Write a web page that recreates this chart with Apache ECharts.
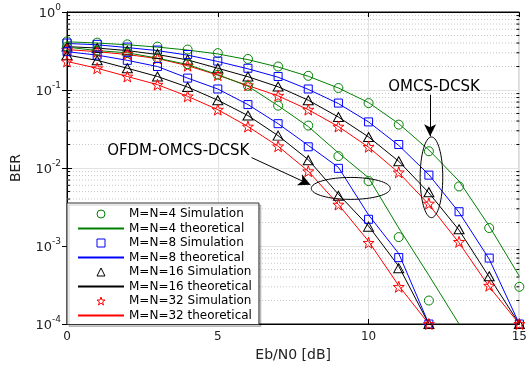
<!DOCTYPE html>
<html>
<head>
<meta charset="utf-8">
<script src="https://cdn.jsdelivr.net/npm/echarts@6/dist/echarts.min.js"></script>
<style>
  html, body { margin: 0; padding: 0; background: #fff; }
  #chart { width: 530px; height: 367px; }
</style>
</head>
<body>
<div id="chart"></div>
<script>
var snr = [0, 1, 2, 3, 4, 5, 6, 7, 8, 9, 10, 11, 12, 13, 14, 15]

// OMCS-DCSK (right group)
var omcs4Sim = [0.42, 0.405, 0.385, 0.36, 0.33, 0.297, 0.25, 0.20, 0.152, 0.106, 0.068, 0.036, 0.0164, 0.0058, 0.0017, 0.0003]
var omcs4Th = [0.415, 0.40, 0.38, 0.355, 0.325, 0.29, 0.245, 0.197, 0.15, 0.106, 0.069, 0.037, 0.0170, 0.0068, 0.0018, 0.00041]
var omcs8Sim = [0.40, 0.385, 0.355, 0.325, 0.285, 0.235, 0.19, 0.149, 0.103, 0.068, 0.039, 0.020, 0.0081, 0.00275, 0.0007, 0.0001]
var omcs8Th = [0.395, 0.38, 0.35, 0.32, 0.28, 0.232, 0.187, 0.146, 0.102, 0.067, 0.039, 0.0195, 0.0082, 0.0027, 0.00068, 0.0001]
var omcs16Sim = [0.36, 0.345, 0.32, 0.29, 0.245, 0.19, 0.149, 0.111, 0.074, 0.045, 0.025, 0.0122, 0.0049, 0.00164, 0.00041, 0.0001]
var omcs16Th = [0.36, 0.345, 0.32, 0.285, 0.243, 0.19, 0.148, 0.11, 0.074, 0.045, 0.025, 0.0122, 0.0048, 0.0016, 0.0004, 0.0001]
var omcs32Sim = [0.33, 0.31, 0.29, 0.255, 0.205, 0.155, 0.115, 0.0845, 0.056, 0.034, 0.0187, 0.0088, 0.0035, 0.00113, 0.00031, 0.0001]
var omcs32Th = [0.33, 0.31, 0.285, 0.253, 0.205, 0.155, 0.114, 0.084, 0.056, 0.034, 0.0185, 0.0087, 0.0034, 0.0011, 0.0003, 0.0001]

// OFDM-OMCS-DCSK (left group)
var ofdm4Sim = [0.36, 0.32, 0.30, 0.256, 0.214, 0.157, 0.113, 0.063, 0.035, 0.0142, 0.0068, 0.0013, 0.0002]
var ofdm4Th = [0.355, 0.32, 0.30, 0.256, 0.212, 0.157, 0.112, 0.063, 0.034, 0.0156, 0.0075, 0.0017, 0.00042, 0.0001]
var ofdm8Sim = [0.31, 0.28, 0.24, 0.20, 0.142, 0.103, 0.065, 0.037, 0.0187, 0.0099, 0.0022, 0.00071, 0.0001]
var ofdm8Th = [0.31, 0.28, 0.24, 0.20, 0.142, 0.103, 0.065, 0.037, 0.0195, 0.0102, 0.0025, 0.0008, 0.0001]
var ofdm16Sim = [0.28, 0.24, 0.19, 0.149, 0.109, 0.074, 0.047, 0.026, 0.0126, 0.0044, 0.00177, 0.00052, 0.0001]
var ofdm16Th = [0.28, 0.24, 0.19, 0.149, 0.109, 0.074, 0.047, 0.026, 0.0128, 0.0046, 0.0018, 0.00055, 0.0001]
var ofdm32Sim = [0.232, 0.19, 0.149, 0.117, 0.083, 0.056, 0.034, 0.019, 0.0091, 0.0034, 0.0011, 0.0003, 0.0001]
var ofdm32Th = [0.232, 0.19, 0.149, 0.117, 0.083, 0.056, 0.034, 0.019, 0.0091, 0.0034, 0.00115, 0.00031, 0.0001]

var legendNames = [
  'M=N=4 Simulation', 'M=N=4 theoretical',
  'M=N=8 Simulation', 'M=N=8 theoretical',
  'M=N=16 Simulation', 'M=N=16 theoretical',
  'M=N=32 Simulation', 'M=N=32 theoretical'
]
var yTicks = [1e-4, 1e-3, 1e-2, 1e-1, 1]

var colors = ['#008000', '#0000ff', '#000000', '#ff0000']
var star = 'path://M0,-10L2.35,-3.24L9.51,-3.09L3.8,1.24L5.88,8.09L0,4L-5.88,8.09L-3.8,1.24L-9.51,-3.09L-2.35,-3.24Z'
var symbols = ['circle', 'rect', 'triangle', star]
var symbolSizes = [9, 8, [10, 9], [11, 11]]
var font = 'DejaVu Sans'

var groups = [
  { sims: [omcs4Sim, omcs8Sim, omcs16Sim, omcs32Sim], ths: [omcs4Th, omcs8Th, omcs16Th, omcs32Th] },
  { sims: [ofdm4Sim, ofdm8Sim, ofdm16Sim, ofdm32Sim], ths: [ofdm4Th, ofdm8Th, ofdm16Th, ofdm32Th] }
]

function pairs(vals) {
  return vals.map(function (v, i) { return [snr[i], v] })
}

var series = []
groups.forEach(function (g) {
  for (var k = 0; k < 4; k++) {
    series.push({
      name: legendNames[2 * k + 1],
      type: 'line',
      data: pairs(g.ths[k]),
      symbol: 'none',
      clip: false,
      lineStyle: { color: colors[k], width: 1 },
      itemStyle: { color: colors[k] },
      z: 2
    })
    series.push({
      name: legendNames[2 * k],
      type: 'line',
      data: pairs(g.sims[k]),
      symbol: symbols[k],
      symbolSize: symbolSizes[k],
      showAllSymbol: true,
      clip: false,
      lineStyle: { opacity: 0, width: 0 },
      itemStyle: { color: 'rgba(0,0,0,0)', borderColor: colors[k], borderWidth: 1 },
      z: 3
    })
  }
})

// annotation arrows, in data coords
series.push({
  type: 'line',
  data: [],
  silent: true,
  markLine: {
    silent: true,
    animation: false,
    symbol: ['none', 'arrow'],
    symbolSize: [9, 12],
    label: { show: false },
    lineStyle: { color: '#000', width: 1, type: 'solid' },
    data: [
      [{ coord: [12.04, 0.087] }, { coord: [12.04, 0.0255] }],
      [{ coord: [6.12, 0.0136] }, { coord: [8.07, 0.0061] }]
    ]
  }
})

var chart = echarts.init(document.getElementById('chart'))

var legendData = legendNames.map(function (n, i) {
  var c = colors[Math.floor(i / 2)]
  if (i % 2 === 1) return { name: n, itemStyle: { opacity: 0 } }
  return {
    name: n,
    lineStyle: { opacity: 0 },
    itemStyle: { color: 'rgba(0,0,0,0)', borderColor: c, borderWidth: 1 }
  }
})

chart.setOption({
  animation: false,
  grid: { left: 67, right: 7, top: 12, bottom: 42, show: true, borderColor: '#000', borderWidth: 1 },
  legend: {
    orient: 'vertical',
    left: 67,
    top: 203,
    selectedMode: false,
    itemWidth: 46,
    itemHeight: 10,
    itemGap: 0.5,
    padding: [4, 7, 2, 10],
    backgroundColor: '#fff',
    borderColor: '#333',
    borderWidth: 1,
    shadowColor: 'rgba(0,0,0,0.2)',
    shadowOffsetX: 2,
    shadowOffsetY: 2,
    shadowBlur: 0,
    textStyle: { fontFamily: font, fontSize: 12, color: '#000', lineHeight: 14 },
    data: legendData
  },
  xAxis: [{
    type: 'value',
    min: 0,
    max: 15,
    interval: 5,
    name: 'Eb/N0 [dB]',
    nameLocation: 'middle',
    nameGap: 24,
    nameTextStyle: { fontFamily: font, fontSize: 14, color: '#222' },
    axisLine: { lineStyle: { color: '#000' } },
    axisTick: { inside: true, length: 5, lineStyle: { color: '#000' } },
    axisLabel: { fontFamily: font, fontSize: 12, color: '#222', margin: 7 },
    splitLine: { show: true, lineStyle: { color: '#e2e2e2' } }
  }, {
    type: 'value',
    position: 'top',
    min: 0,
    max: 15,
    interval: 5,
    axisLine: { lineStyle: { color: '#000' } },
    axisTick: { inside: true, length: 5, lineStyle: { color: '#000' } },
    axisLabel: { show: false },
    splitLine: { show: false }
  }],
  yAxis: [{
    type: 'log',
    logBase: 10,
    min: yTicks[0],
    max: yTicks[yTicks.length - 1],
    name: 'BER',
    nameLocation: 'middle',
    nameGap: 44,
    nameTextStyle: { fontFamily: font, fontSize: 14, color: '#222' },
    axisLine: { show: true, lineStyle: { color: '#000' } },
    axisTick: { show: true, inside: true, length: 5, lineStyle: { color: '#000' } },
    axisLabel: {
      margin: 6,
      formatter: function (v) {
        return '{b|10}{s|' + Math.round(Math.log10(v)) + '}'
      },
      rich: {
        b: { fontFamily: font, fontSize: 13, color: '#222', padding: [4, 0, 0, 0], verticalAlign: 'bottom' },
        s: { fontFamily: font, fontSize: 9, color: '#222', verticalAlign: 'top' }
      }
    },
    splitLine: { show: true, lineStyle: { color: '#e2e2e2' } }
  }, {
    type: 'log',
    logBase: 10,
    position: 'right',
    min: yTicks[0],
    max: yTicks[yTicks.length - 1],
    axisLine: { show: true, lineStyle: { color: '#000' } },
    axisTick: { show: true, inside: true, length: 5, lineStyle: { color: '#000' } },
    axisLabel: { show: false },
    splitLine: { show: false }
  }],
  series: series
})

// minor log grid + ticks, ellipses and notes, placed through the axes
function px(x, y) {
  return chart.convertToPixel({ gridIndex: 0 }, [x, y])
}
var graphics = []
var xl = px(0, 1)[0], xr = px(15, 1)[0]
for (var d = -4; d < 0; d++) {
  for (var m = 2; m <= 9; m++) {
    var yy = px(0, m * Math.pow(10, d))[1]
    graphics.push({ type: 'line', z: 1, silent: true, shape: { x1: xl, y1: yy, x2: xr, y2: yy }, style: { stroke: '#c8c8c8', lineWidth: 1, lineDash: [1, 2] } })
    graphics.push({ type: 'line', z: 3, silent: true, shape: { x1: xl, y1: yy, x2: xl + 3, y2: yy }, style: { stroke: '#000', lineWidth: 1 } })
    graphics.push({ type: 'line', z: 3, silent: true, shape: { x1: xr - 3, y1: yy, x2: xr, y2: yy }, style: { stroke: '#000', lineWidth: 1 } })
  }
}

var ellipses = [
  { x0: 11.71, x1: 12.46, y0: 0.0250, y1: 0.00231 },
  { x0: 8.10, x1: 10.72, y0: 0.00757, y1: 0.00396 }
]
ellipses.forEach(function (e) {
  var a = px(e.x0, e.y0), b = px(e.x1, e.y1)
  graphics.push({
    type: 'ellipse', z: 5, silent: true,
    shape: { cx: (a[0] + b[0]) / 2, cy: (a[1] + b[1]) / 2, rx: Math.abs(b[0] - a[0]) / 2, ry: Math.abs(b[1] - a[1]) / 2 },
    style: { fill: null, stroke: '#000', lineWidth: 1 }
  })
})

var notes = [
  { text: 'OMCS-DCSK', x: 12.17, y: 0.110 },
  { text: 'OFDM-OMCS-DCSK', x: 3.69, y: 0.01625 }
]
notes.forEach(function (n) {
  var p = px(n.x, n.y)
  graphics.push({
    type: 'text', z: 5, silent: true, x: p[0], y: p[1],
    style: { text: n.text, fontFamily: font, fontSize: 15, fill: '#000', align: 'center', verticalAlign: 'middle' }
  })
})

chart.setOption({ graphic: graphics })
</script>
</body>
</html>
